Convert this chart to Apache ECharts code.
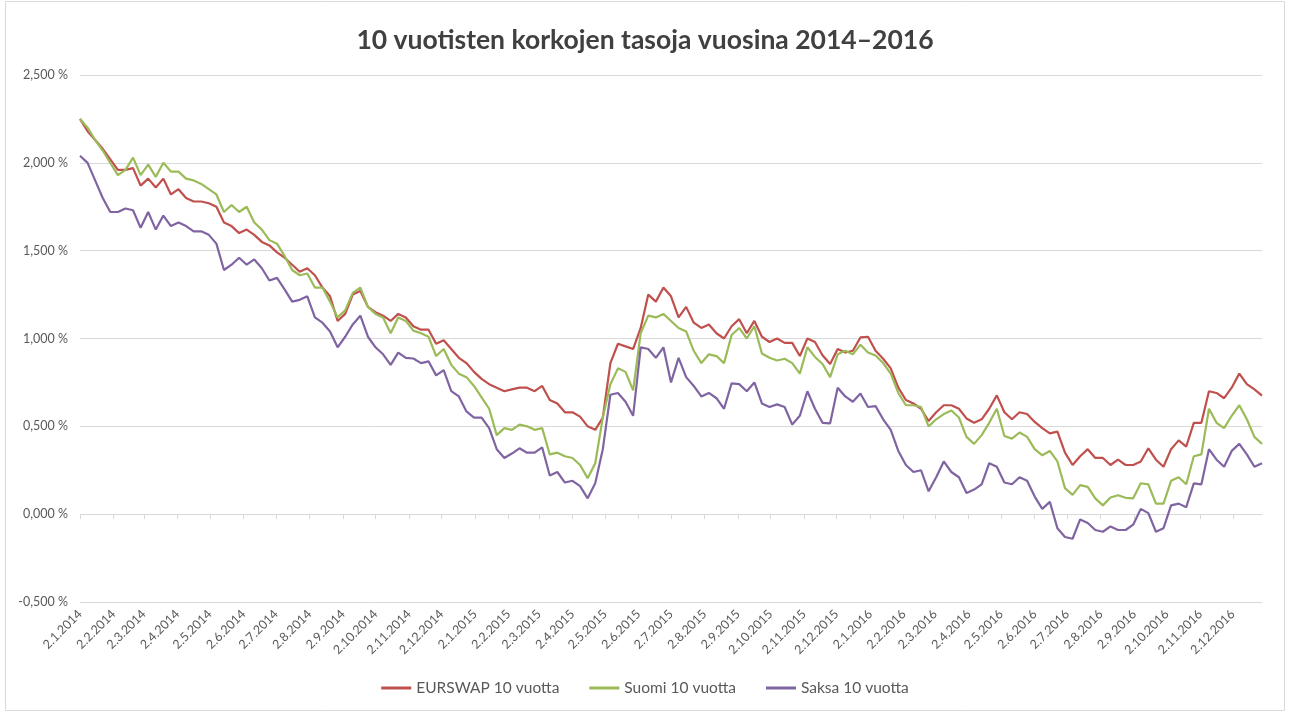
<!DOCTYPE html>
<html>
<head>
<meta charset="utf-8">
<script src="https://cdn.jsdelivr.net/npm/echarts@6/dist/echarts.min.js"></script>
<style>
html,body{margin:0;padding:0;background:#fff;}
#c{width:1290px;height:713px;}
</style>
</head>
<body>
<div id="c"></div>
<script>
// Weekly samples starting 2.1.2014 (one value every 7 days), in percent
const sampleStart = [2014, 1, 2];
const sampleStepDays = 7;
const axisEnd = [2016, 12, 29];

const eurswap = [
2.25,2.18,2.13,2.08,2.02,1.96,1.96,1.97,1.87,1.91,1.86,1.91,1.82,1.85,1.80,1.78,1.78,1.77,1.75,1.66,
1.64,1.60,1.62,1.59,1.55,1.53,1.49,1.46,1.42,1.38,1.40,1.36,1.29,1.24,1.10,1.14,1.25,1.27,1.18,1.15,
1.13,1.10,1.14,1.12,1.07,1.05,1.05,0.97,0.99,0.94,0.89,0.86,0.81,0.77,0.74,0.72,0.70,0.71,0.72,0.72,
0.70,0.73,0.65,0.63,0.58,0.58,0.555,0.50,0.48,0.55,0.86,0.97,0.955,0.94,1.06,1.25,1.21,1.29,1.24,1.12,
1.18,1.09,1.06,1.08,1.03,1.00,1.07,1.11,1.03,1.10,1.01,0.98,1.00,0.975,0.975,0.90,1.00,0.98,0.905,0.855,
0.94,0.92,0.93,1.006,1.01,0.93,0.885,0.83,0.72,0.65,0.63,0.60,0.53,0.58,0.62,0.62,0.60,0.545,0.52,0.54,
0.60,0.676,0.58,0.54,0.58,0.57,0.525,0.49,0.46,0.47,0.35,0.28,0.33,0.37,0.32,0.32,0.28,0.31,0.28,0.28,
0.30,0.375,0.31,0.27,0.37,0.42,0.385,0.52,0.52,0.70,0.69,0.66,0.72,0.80,0.74,0.71,0.675
];
const suomi = [
2.25,2.20,2.13,2.07,2.00,1.93,1.96,2.03,1.93,1.99,1.92,2.00,1.95,1.95,1.91,1.90,1.88,1.85,1.82,1.72,
1.76,1.72,1.75,1.66,1.62,1.56,1.54,1.47,1.39,1.36,1.37,1.29,1.29,1.21,1.12,1.16,1.26,1.29,1.18,1.14,
1.12,1.03,1.12,1.10,1.045,1.03,1.01,0.90,0.94,0.85,0.80,0.78,0.73,0.665,0.60,0.45,0.49,0.48,0.51,0.50,
0.48,0.49,0.34,0.35,0.33,0.32,0.28,0.205,0.29,0.55,0.74,0.83,0.81,0.705,1.03,1.13,1.12,1.14,1.10,1.06,
1.04,0.93,0.86,0.91,0.90,0.86,1.02,1.06,1.00,1.07,0.915,0.89,0.875,0.885,0.86,0.80,0.95,0.895,0.855,0.78,
0.91,0.93,0.91,0.965,0.92,0.903,0.86,0.80,0.69,0.62,0.62,0.61,0.50,0.54,0.57,0.59,0.55,0.44,0.40,0.45,
0.52,0.60,0.445,0.43,0.465,0.44,0.37,0.335,0.36,0.30,0.148,0.11,0.165,0.155,0.09,0.05,0.095,0.108,0.093,0.09,
0.176,0.17,0.06,0.06,0.19,0.21,0.17,0.33,0.34,0.60,0.52,0.49,0.56,0.62,0.54,0.44,0.40
];
const saksa = [
2.04,2.00,1.90,1.80,1.72,1.72,1.74,1.73,1.63,1.72,1.62,1.70,1.64,1.66,1.64,1.61,1.61,1.59,1.54,1.39,
1.42,1.46,1.42,1.45,1.40,1.33,1.345,1.28,1.21,1.22,1.24,1.12,1.09,1.04,0.95,1.01,1.08,1.13,1.01,0.95,
0.91,0.85,0.92,0.89,0.886,0.86,0.87,0.79,0.82,0.70,0.67,0.585,0.55,0.55,0.49,0.37,0.32,0.345,0.375,0.35,
0.35,0.38,0.22,0.24,0.18,0.19,0.16,0.09,0.176,0.37,0.68,0.69,0.64,0.56,0.95,0.94,0.89,0.95,0.75,0.89,
0.78,0.73,0.67,0.69,0.66,0.60,0.745,0.74,0.70,0.75,0.63,0.61,0.625,0.61,0.51,0.56,0.70,0.60,0.52,0.517,
0.72,0.67,0.64,0.687,0.61,0.615,0.54,0.48,0.36,0.28,0.24,0.25,0.13,0.21,0.30,0.24,0.21,0.12,0.14,0.17,
0.29,0.27,0.18,0.17,0.21,0.19,0.10,0.03,0.07,-0.08,-0.13,-0.14,-0.03,-0.05,-0.09,-0.10,-0.07,-0.09,-0.09,-0.06,
0.03,0.006,-0.10,-0.08,0.05,0.06,0.04,0.175,0.17,0.37,0.31,0.27,0.36,0.40,0.34,0.27,0.29
];
const seriesNames = ['EURSWAP 10 vuotta', 'Suomi 10 vuotta', 'Saksa 10 vuotta'];
const titleText = '10 vuotisten korkojen tasoja vuosina 2014–2016';

// ---- build axis categories (every calendar day) ----
function fmt(d){ return d.getUTCDate() + '.' + (d.getUTCMonth()+1) + '.' + d.getUTCFullYear(); }
const dayMs = 86400000;
const t0 = Date.UTC(sampleStart[0], sampleStart[1]-1, sampleStart[2]);
const t1 = Date.UTC(axisEnd[0], axisEnd[1]-1, axisEnd[2]);
const categories = [];
for (let t = t0; t <= t1; t += dayMs) categories.push(fmt(new Date(t)));
function toPairs(vals){
  return vals.map((v, k) => [fmt(new Date(t0 + k*sampleStepDays*dayMs)), v]);
}
const isMonthMark = (idx, val) => String(val).split('.')[0] === '2';

const font = 'Lato, "Open Sans", "DejaVu Sans", sans-serif';
const grey = '#595959';
const colors = ['#C0504D', '#9BBB59', '#8064A2'];

const chart = echarts.init(document.getElementById('c'), null, {renderer: 'canvas'});
chart.setOption({
  animation: false,
  color: colors,
  textStyle: {fontFamily: font},
  title: {
    text: titleText, left: 'center', top: 22,
    textStyle: {fontFamily: font, fontSize: 26.5, fontWeight: 'bold', color: '#404040'}
  },
  legend: {
    bottom: 12, left: 'center', itemWidth: 30, itemHeight: 3, itemGap: 30,
    icon: 'rect',
    textStyle: {fontFamily: font, fontSize: 15.5, color: grey},
    data: seriesNames
  },
  graphic: [{
    type: 'rect', shape: {x: 5.5, y: 1.5, width: 1279, height: 709},
    style: {fill: 'none', stroke: '#d9d9d9', lineWidth: 1}, silent: true, z: -10
  }],
  grid: {left: 80, right: 28, top: 75, bottom: 111, containLabel: false},
  xAxis: [{
    type: 'category', data: categories, boundaryGap: false,
    axisLine: {onZero: true, lineStyle: {color: '#d9d9d9', width: 1}},
    axisTick: {show: true, interval: isMonthMark, length: 5, lineStyle: {color: '#d9d9d9'}},
    axisLabel: {show: false},
    splitLine: {show: false}
  }, {
    type: 'category', data: categories, boundaryGap: false, position: 'bottom',
    axisLine: {show: false, onZero: false},
    axisTick: {show: false},
    axisLabel: {
      show: true, interval: isMonthMark, rotate: 45, margin: 10,
      fontFamily: font, fontSize: 12.5, color: grey
    },
    splitLine: {show: false}
  }],
  yAxis: {
    type: 'value', min: -0.5, max: 2.5, interval: 0.5,
    axisLine: {show: false}, axisTick: {show: false},
    axisLabel: {
      margin: 12, fontFamily: font, fontSize: 12.5, color: grey,
      formatter: v => v.toFixed(3).replace('.', ',') + ' %'
    },
    splitLine: {lineStyle: {color: '#d9d9d9', width: 1}}
  },
  series: [
    {name: seriesNames[0], type: 'line', data: toPairs(eurswap), showSymbol: false, symbol: 'none', lineStyle: {width: 2.2, color: colors[0]}, itemStyle: {color: colors[0]}},
    {name: seriesNames[1], type: 'line', data: toPairs(suomi), showSymbol: false, symbol: 'none', lineStyle: {width: 2.2, color: colors[1]}, itemStyle: {color: colors[1]}},
    {name: seriesNames[2], type: 'line', data: toPairs(saksa), showSymbol: false, symbol: 'none', lineStyle: {width: 2.2, color: colors[2]}, itemStyle: {color: colors[2]}}
  ]
});
</script>
</body>
</html>
